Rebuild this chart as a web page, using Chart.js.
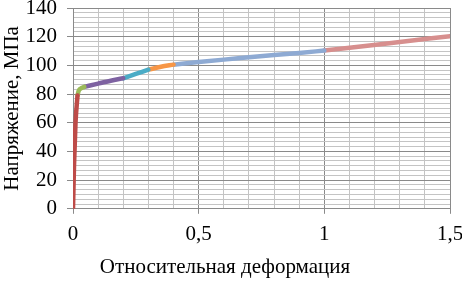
<!DOCTYPE html>
<html>
<head>
<meta charset="utf-8">
<script src="https://cdn.jsdelivr.net/npm/chart.js"></script>
<style>
  html, body { margin: 0; padding: 0; background: #fff; }
  #wrap { width: 462px; height: 281px; }
</style>
</head>
<body>
<div id="wrap"><canvas id="chart" width="462" height="281"></canvas></div>
<script>
// stress-strain curve, split into colored segments (strain, stress MPa)
const redX = [0, 0.004, 0.010, 0.018];
const redY = [0, 30, 60, 79];
const greenX = [0.018, 0.022, 0.030, 0.045];
const greenY = [79, 82, 83.8, 85];
const purpleX = [0.045, 0.10, 0.15, 0.20];
const purpleY = [85, 87.3, 89.3, 91];
const tealX = [0.20, 0.25, 0.30];
const tealY = [91, 94, 97];
const orangeX = [0.30, 0.35, 0.40];
const orangeY = [97, 99, 100.5];
const blueX = [0.40, 0.50, 0.60, 0.70, 0.80, 0.90, 1.00];
const blueY = [100.5, 102.3, 104, 105.6, 107.2, 108.7, 110.3];
const pinkX = [1.00, 1.25, 1.50];
const pinkY = [110.3, 115.3, 120.4];

const xTicksMajor = [0, 0.5, 1, 1.5];
const yTicksMajor = [0, 20, 40, 60, 80, 100, 120, 140];

const xTitle = 'Относительная деформация';
const yTitle = 'Напряжение, МПа';

const MAJOR = '#8a8a8a', MINOR = '#c4c4c4';
const FONT = 'Liberation Serif';

function pts(xs, ys) { return xs.map((x, i) => ({ x, y: ys[i] })); }
function seg(xs, ys, color) {
  return { data: pts(xs, ys), borderColor: color, borderWidth: 4.5, pointRadius: 0, showLine: true,
           cubicInterpolationMode: 'monotone', fill: false, borderCapStyle: 'round' };
}
function isMajor(v, list) { return list.some(m => Math.abs(m - v) < 1e-6); }
// keep chart area fixed: no extra room for overhanging tick labels
function noPad(s) { s.paddingTop = 0; s.paddingBottom = 0; s.paddingLeft = 0; s.paddingRight = 0; }

new Chart(document.getElementById('chart'), {
  type: 'scatter',
  data: {
    datasets: [
      seg(redX, redY, '#be4b48'),
      seg(greenX, greenY, '#9bbb59'),
      seg(purpleX, purpleY, '#7e62a1'),
      seg(tealX, tealY, '#4bacc6'),
      seg(orangeX, orangeY, '#f79646'),
      seg(blueX, blueY, '#8eaad3'),
      seg(pinkX, pinkY, '#d78f8e')
    ]
  },
  options: {
    responsive: false,
    animation: false,
    layout: { padding: { top: 8, right: 12, left: 0, bottom: 0 } },
    plugins: {
      legend: { display: false },
      tooltip: { enabled: false },
      title: {
        display: true, position: 'bottom', text: xTitle, color: '#000',
        font: { family: FONT, size: 21, weight: 'normal' },
        padding: { top: 3, bottom: 1 }
      }
    },
    scales: {
      x: {
        type: 'linear', min: 0, max: 1.5,
        afterBuildTicks: s => {
          const t = [];
          for (let i = 0; i <= 15; i++) t.push({ value: i / 10 });
          s.ticks = t;
        },
        afterFit: s => { s.height = 43; noPad(s); },
        grid: {
          color: c => isMajor(c.tick.value, xTicksMajor) ? MAJOR : MINOR,
          tickColor: c => isMajor(c.tick.value, xTicksMajor) ? MAJOR : 'rgba(0,0,0,0)',
          tickLength: 5
        },
        border: { color: MAJOR },
        ticks: {
          autoSkip: false, maxRotation: 0, padding: 8, color: '#000',
          font: { family: FONT, size: 21 },
          callback: v => isMajor(v, xTicksMajor) ? String(v).replace('.', ',') : ''
        }
      },
      y: {
        type: 'linear', min: 0, max: 140,
        afterBuildTicks: s => {
          const t = [];
          for (let i = 0; i <= 42; i++) t.push({ value: i * 20 / 6 });
          s.ticks = t;
        },
        afterFit: s => { s.width = 73; noPad(s); },
        grid: {
          color: c => isMajor(c.tick.value, yTicksMajor) ? MAJOR : MINOR,
          tickColor: c => isMajor(c.tick.value, yTicksMajor) ? MAJOR : 'rgba(0,0,0,0)',
          tickLength: 6
        },
        border: { color: MAJOR },
        title: {
          display: true, text: yTitle, color: '#000',
          font: { family: FONT, size: 21 }, padding: 0
        },
        ticks: {
          autoSkip: false, padding: 10, color: '#000',
          font: { family: FONT, size: 21 },
          callback: v => isMajor(v, yTicksMajor) ? String(Math.round(v)) : ''
        }
      }
    }
  }
});
</script>
</body>
</html>
